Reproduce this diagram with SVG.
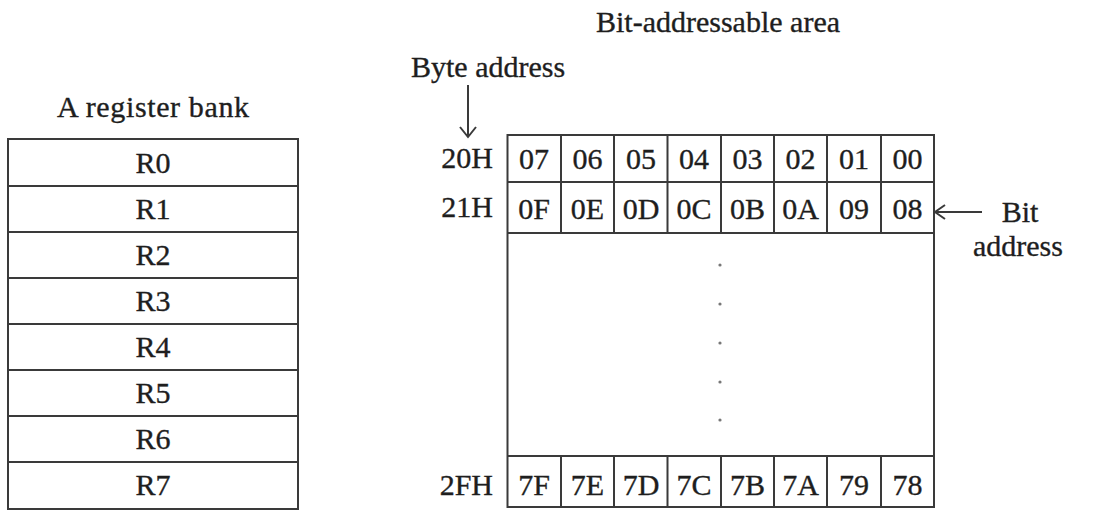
<svg xmlns="http://www.w3.org/2000/svg" width="1095" height="512" viewBox="0 0 1095 512" font-family="'Liberation Serif', 'Times New Roman', Tinos, 'DejaVu Serif', serif">
<style>
text{font-family:'Liberation Serif','Times New Roman',Tinos,'DejaVu Serif',serif;font-size:30px;fill:#1e1e1e;stroke:#1e1e1e;stroke-width:0.35}
.c{text-anchor:middle}
.e{text-anchor:end}
.ln{stroke:#3a3a3a;stroke-width:2;fill:none}
.dot{fill:#777}
</style>
<rect width="1095" height="512" fill="#fff"/>
<g id="register-bank">
<text class="c" x="153" y="117" textLength="192" lengthAdjust="spacing">A register bank</text>
<rect class="ln" x="8" y="139" width="290" height="370"/>
<path class="ln" d="M8 186H298M8 232H298M8 278H298M8 324H298M8 370H298M8 416H298M8 462H298"/>
<text class="c" x="153" y="173">R0</text>
<text class="c" x="153" y="219">R1</text>
<text class="c" x="153" y="265">R2</text>
<text class="c" x="153" y="311">R3</text>
<text class="c" x="153" y="357">R4</text>
<text class="c" x="153" y="403">R5</text>
<text class="c" x="153" y="449">R6</text>
<text class="c" x="153" y="495">R7</text>
</g>
<g id="bit-area">
<text class="c" x="718" y="32">Bit-addressable area</text>
<rect class="ln" x="507.5" y="135" width="426.5" height="372"/>
<path class="ln" d="M507.5 182H934M507.5 233H934M507.5 456H934"/>
<path class="ln" d="M561 135V233M614 135V233M667.5 135V233M721 135V233M774 135V233M827 135V233M881 135V233"/>
<path class="ln" d="M561 456V507M614 456V507M667.5 456V507M721 456V507M774 456V507M827 456V507M881 456V507"/>
<text class="e" x="493" y="168">20H</text>
<text class="e" x="493" y="217">21H</text>
<text class="e" x="493" y="495">2FH</text>
<text class="c" x="534" y="169">07</text><text class="c" x="587.5" y="169">06</text><text class="c" x="641" y="169">05</text><text class="c" x="694" y="169">04</text><text class="c" x="747.5" y="169">03</text><text class="c" x="800.5" y="169">02</text><text class="c" x="854" y="169">01</text><text class="c" x="907.5" y="169">00</text>
<text class="c" x="534" y="219">0F</text><text class="c" x="587.5" y="219">0E</text><text class="c" x="641" y="219">0D</text><text class="c" x="694" y="219">0C</text><text class="c" x="747.5" y="219">0B</text><text class="c" x="800.5" y="219">0A</text><text class="c" x="854" y="219">09</text><text class="c" x="907.5" y="219">08</text>
<text class="c" x="534" y="495">7F</text><text class="c" x="587.5" y="495">7E</text><text class="c" x="641" y="495">7D</text><text class="c" x="694" y="495">7C</text><text class="c" x="747.5" y="495">7B</text><text class="c" x="800.5" y="495">7A</text><text class="c" x="854" y="495">79</text><text class="c" x="907.5" y="495">78</text>
<circle class="dot" cx="720" cy="265" r="1.6"/>
<circle class="dot" cx="720" cy="304" r="1.6"/>
<circle class="dot" cx="720" cy="343" r="1.6"/>
<circle class="dot" cx="720" cy="382" r="1.6"/>
<circle class="dot" cx="720" cy="420" r="1.6"/>
</g>
<g id="byte-address-label">
<text x="411" y="77">Byte address</text>
</g>
<g id="bit-address-label">
<text class="c" x="1020" y="222">Bit</text>
<text class="c" x="1018" y="256">address</text>
</g>
<g id="connectors">
<path class="ln" d="M468 85V136M460 127L468 137L476 127"/>
<path class="ln" d="M982 212H936M945 205L935 212L945 219"/>
</g>
</svg>
